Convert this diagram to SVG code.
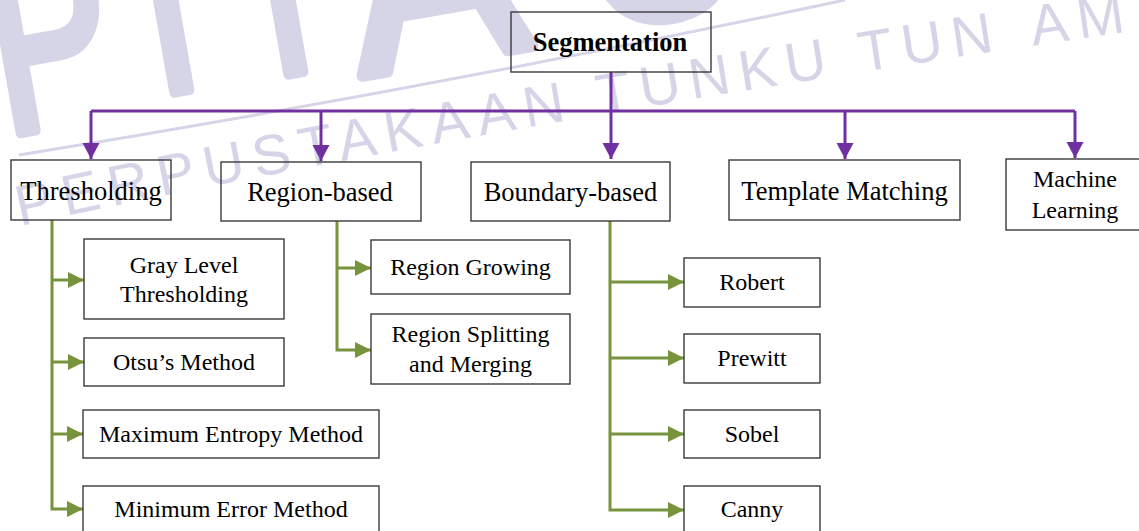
<svg xmlns="http://www.w3.org/2000/svg" width="1139" height="531" viewBox="0 0 1139 531">
<defs>
<style>
.wm{fill:#d6d4e7;font-family:"Liberation Sans",Arial,sans-serif}
.big{font-size:260px;stroke:#d6d4e7;stroke-width:12;stroke-linejoin:round}
.box{fill:none;stroke:#3a3a3a;stroke-width:1.4}
.t{font-family:"Liberation Serif","Times New Roman",serif;font-size:24px;fill:#000;text-anchor:middle}
.h{font-size:26.5px}
.b{font-weight:bold}
.pu{fill:none;stroke:#7030A0;stroke-width:3}
.gr{fill:none;stroke:#77933C;stroke-width:3}
</style>
<marker id="ap" markerUnits="userSpaceOnUse" markerWidth="18" markerHeight="18" refX="16" refY="8.5" orient="auto" viewBox="0 0 18 18">
<path d="M0,0 L16,8.5 L0,17 z" fill="#7030A0"/>
</marker>
<marker id="ag" markerUnits="userSpaceOnUse" markerWidth="18" markerHeight="18" refX="16" refY="8" orient="auto" viewBox="0 0 18 18">
<path d="M0,0 L16,8 L0,16 z" fill="#77933C"/>
</marker>
<path id="arc" d="M 20 226 Q 480 126 1139 30 L 1239 15"/>
</defs>
<rect width="1139" height="531" fill="#fff"/>
<g id="watermark">
<text class="wm big" transform="translate(5 135) rotate(-10) scale(0.7 1)">P</text>
<text class="wm big" transform="translate(127 100) rotate(-10) scale(0.7 1)">T</text>
<text class="wm big" transform="translate(241 82) rotate(-10) scale(0.7 1)">T</text>
<text class="wm big" transform="translate(362 76) rotate(-10)">A</text>
<text class="wm big" transform="translate(590 30) rotate(-10) scale(0.9 1)">U</text>
<path d="M 19 155 Q 428 89 845 0" fill="none" stroke="#d6d4e7" stroke-width="3"/>
<text class="wm" font-size="57" letter-spacing="9"><textPath href="#arc">PERPUSTAKAAN TUNKU TUN<tspan dx="8"> AM</tspan></textPath></text>
</g>
<g id="connectors">
<path class="pu" d="M611 72 V159" marker-end="url(#ap)"/>
<path class="pu" d="M91 111 H1075"/>
<path class="pu" d="M91 111 V159" marker-end="url(#ap)"/>
<path class="pu" d="M321 111 V161" marker-end="url(#ap)"/>
<path class="pu" d="M845 111 V159" marker-end="url(#ap)"/>
<path class="pu" d="M1075 111 V158" marker-end="url(#ap)"/>
<path class="gr" d="M52 220 V509 H83" marker-end="url(#ag)"/>
<path class="gr" d="M52 280 H84" marker-end="url(#ag)"/>
<path class="gr" d="M52 362 H84" marker-end="url(#ag)"/>
<path class="gr" d="M52 434 H83" marker-end="url(#ag)"/>
<path class="gr" d="M337 221 V350 H371" marker-end="url(#ag)"/>
<path class="gr" d="M337 268 H371" marker-end="url(#ag)"/>
<path class="gr" d="M610 221 V510 H684" marker-end="url(#ag)"/>
<path class="gr" d="M610 282 H684" marker-end="url(#ag)"/>
<path class="gr" d="M610 358 H684" marker-end="url(#ag)"/>
<path class="gr" d="M610 434 H684" marker-end="url(#ag)"/>
</g>
<g id="segmentation"><rect class="box" x="511" y="12" width="200" height="60"/><text class="t h b" x="610" y="51">Segmentation</text></g>
<g id="thresholding"><rect class="box" x="11" y="160" width="160" height="60"/><text class="t h" x="91" y="200">Thresholding</text></g>
<g id="region-based"><rect class="box" x="221" y="162" width="200" height="59"/><text class="t h" x="320" y="201">Region-based</text></g>
<g id="boundary-based"><rect class="box" x="471" y="162" width="199" height="59"/><text class="t h" x="570.5" y="201">Boundary-based</text></g>
<g id="template-matching"><rect class="box" x="729" y="160" width="231" height="60"/><text class="t h" x="844.5" y="200">Template Matching</text></g>
<g id="machine-learning"><rect class="box" x="1006" y="159" width="138" height="71"/><text class="t" x="1075" y="187">Machine</text><text class="t" x="1075" y="218">Learning</text></g>
<g id="gray-level"><rect class="box" x="84" y="239" width="200" height="80"/><text class="t" x="184" y="273">Gray Level</text><text class="t" x="184" y="302">Thresholding</text></g>
<g id="otsu"><rect class="box" x="84" y="338" width="200" height="48"/><text class="t" x="184" y="370">Otsu’s Method</text></g>
<g id="max-entropy"><rect class="box" x="83" y="410" width="296" height="48"/><text class="t" x="231" y="442">Maximum Entropy Method</text></g>
<g id="min-error"><rect class="box" x="83" y="486" width="296" height="48"/><text class="t" x="231" y="517">Minimum Error Method</text></g>
<g id="region-growing"><rect class="box" x="371" y="240" width="199" height="54"/><text class="t" x="470.5" y="275">Region Growing</text></g>
<g id="region-splitting"><rect class="box" x="371" y="314" width="199" height="70"/><text class="t" x="470.5" y="342">Region Splitting</text><text class="t" x="470.5" y="372">and Merging</text></g>
<g id="robert"><rect class="box" x="684" y="258" width="136" height="49"/><text class="t" x="752" y="290">Robert</text></g>
<g id="prewitt"><rect class="box" x="684" y="334" width="136" height="49"/><text class="t" x="752" y="366">Prewitt</text></g>
<g id="sobel"><rect class="box" x="684" y="410" width="136" height="48"/><text class="t" x="752" y="442">Sobel</text></g>
<g id="canny"><rect class="box" x="684" y="486" width="136" height="48"/><text class="t" x="752" y="517">Canny</text></g>
</svg>
